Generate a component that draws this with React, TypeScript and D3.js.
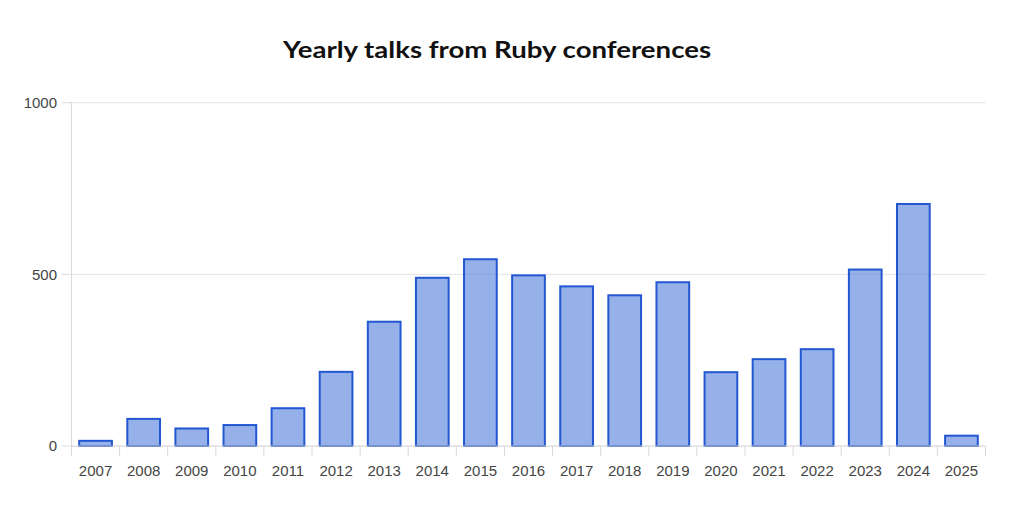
import React from "react";
import * as d3 from "d3";

const years = ["2007","2008","2009","2010","2011","2012","2013","2014","2015","2016","2017","2018","2019","2020","2021","2022","2023","2024","2025"];
const talks = [15, 79, 51, 61, 110, 216, 362, 490, 544, 497, 465, 439, 477, 215, 253, 282, 514, 705, 30];
const yTicks = [0, 500, 1000];
const title = "Yearly talks from Ruby conferences";

const W = 1024, H = 517;
const left = 71.5, right = 985.5, top = 102.7, bottom = 446;

export default function App() {
  const x = d3.scaleBand<string>().domain(years).range([left, right]).paddingInner(0.32).paddingOuter(0.16);
  const y = d3.scaleLinear().domain([0, 1000]).range([bottom, top]);
  const step = x.step();
  const font = "'Liberation Sans', Arial, Helvetica, sans-serif";
  return (
    <svg width={W} height={H} style={{ position: "absolute", left: 0, top: 0, background: "#fff" }}>
      <text x={497} y={58} textAnchor="middle" fontFamily="Lato, 'Open Sans', sans-serif" fontWeight={700} fontSize={23} fill="#111" textLength={428} lengthAdjust="spacingAndGlyphs">{title}</text>
      {/* grid */}
      {yTicks.filter(t => t > 0).map(t => (
        <line key={"g" + t} x1={left} x2={right} y1={y(t)} y2={y(t)} stroke="#e3e3e3" strokeWidth={1} />
      ))}
      {/* left axis */}
      <line x1={left} x2={left} y1={top} y2={bottom} stroke="#d9d9d9" strokeWidth={1} />
      {yTicks.map(t => (
        <g key={"y" + t}>
          <line x1={62} x2={left} y1={y(t)} y2={y(t)} stroke="#d9d9d9" />
          <text x={57} y={y(t)} dy="0.35em" textAnchor="end" fontFamily={font} fontSize={15} fill="#444">{t}</text>
        </g>
      ))}
      {/* bars */}
      {years.map((yr, i) => (
        <rect key={yr} x={x(yr)!} y={y(talks[i])} width={x.bandwidth()} height={bottom - y(talks[i])}
          fill="rgba(46,100,214,0.5)" stroke="#2257d1" strokeWidth={2} />
      ))}
      {/* bottom axis */}
      <line x1={left} x2={right} y1={bottom} y2={bottom} stroke="#cfcfcf" strokeWidth={1} />
      {d3.range(years.length + 1).map(i => (
        <line key={"xt" + i} x1={left + i * step} x2={left + i * step} y1={bottom} y2={456.5} stroke="#d9d9d9" />
      ))}
      {years.map(yr => (
        <text key={"xl" + yr} x={x(yr)! + x.bandwidth() / 2} y={476} textAnchor="middle" fontFamily={font} fontSize={15} fill="#444">{yr}</text>
      ))}
    </svg>
  );
}
